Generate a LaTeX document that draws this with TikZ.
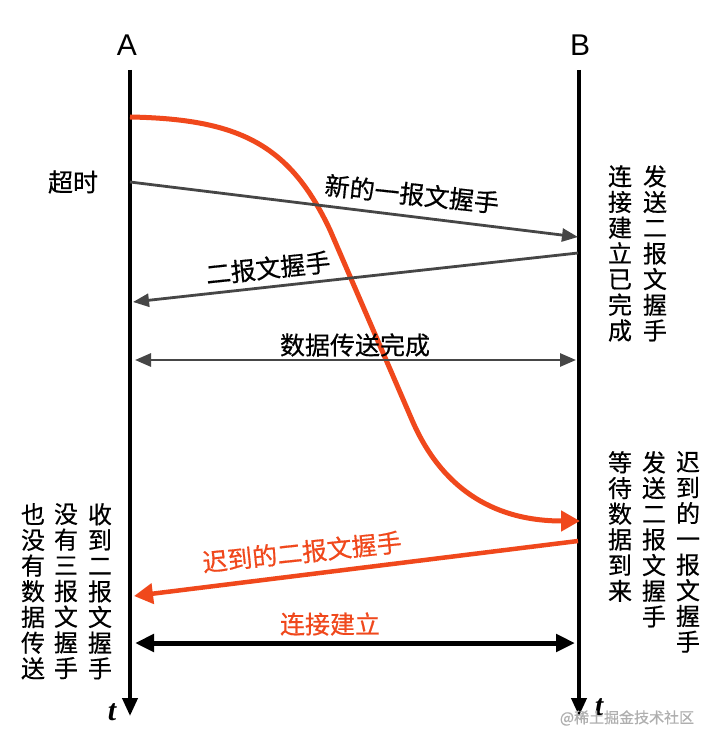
\documentclass[tikz,border=0pt]{standalone}
\usepackage{fontspec}
\setmainfont{Noto Sans CJK SC}[FakeBold=0.5]
\newfontfamily\latinsans{Liberation Sans}
\newfontfamily\tfont{Liberation Serif}
\usetikzlibrary{arrows.meta}
\definecolor{myred}{RGB}{240,72,28}
\definecolor{mygray}{RGB}{70,70,70}
\definecolor{wmgray}{RGB}{175,175,175}
\begin{document}
\begin{tikzpicture}[x=1pt,y=-1pt,
  lab/.style={font=\fontsize{25}{27}\selectfont, inner sep=0pt},
  vlab/.style={font=\fontsize{24}{25.7}\selectfont, align=center, inner sep=0pt, anchor=north},
  axisline/.style={line width=4pt, -{Triangle[length=18pt,width=15pt]}},
  grayarrow/.style={draw=mygray, line width=2.8pt, -{Triangle[length=16pt,width=13pt]}},
  graydouble/.style={draw=mygray, line width=2.8pt, {Triangle[length=16pt,width=13pt]}-{Triangle[length=16pt,width=13pt]}},
  redarrow/.style={draw=myred, line width=5pt, -{Triangle[length=19pt,width=20pt]}},
  blackdouble/.style={draw=black, line width=5pt, {Triangle[length=19pt,width=17pt]}-{Triangle[length=19pt,width=17pt]}},
]
\useasboundingbox[fill=white] (0,0) rectangle (710,746);

% axes
\node[font=\latinsans\fontsize{30}{30}\selectfont, inner sep=0pt] (A) at (127,45) {A};
\node[font=\latinsans\fontsize{30}{30}\selectfont, inner sep=0pt] (B) at (580,45) {B};
\coordinate (Atop) at (130,70);
\coordinate (Abot) at (130,716);
\coordinate (Btop) at (579,70);
\coordinate (Bbot) at (579,716);
\draw[axisline] (Atop) -- (Abot);
\draw[axisline] (Btop) -- (Bbot);
\node[font=\tfont\itshape\bfseries\fontsize{30}{30}\selectfont, inner sep=0pt] (tA) at (112,712) {t};
\node[font=\tfont\itshape\bfseries\fontsize{30}{30}\selectfont, inner sep=0pt] (tB) at (599,707) {t};

% red curve (delayed first handshake)
\coordinate (r0) at (130,117);
\coordinate (r1) at (330,230);
\coordinate (r2) at (412,420);
\coordinate (r3) at (580,521);
\draw[redarrow] (r0) .. controls (240,119) and (290,145) .. (r1) -- (r2) .. controls (440,485) and (490,521) .. (r3);

% timeout
\node[lab] (timeout) at (73,182) {超时};

% new first handshake
\coordinate (n0) at (130,182);
\coordinate (n1) at (578,237);
\draw[grayarrow] (n0) -- (n1);
\node[lab, rotate=-6] (nlab) at (412,194) {新的一报文握手};

% second handshake
\coordinate (s0) at (578,253);
\coordinate (s1) at (133,302);
\draw[grayarrow] (s0) -- (s1);
\node[lab, rotate=6] (slab) at (268,268) {二报文握手};

% data transfer done
\coordinate (d0) at (135,360);
\coordinate (d1) at (576,360);
\draw[graydouble] (d0) -- (d1);
\node[lab] (dlab) at (355,345) {数据传送完成};

% delayed second handshake
\coordinate (l0) at (578,541);
\coordinate (l1) at (134,596);
\draw[redarrow, line width=4.5pt] (l0) -- (l1);
\node[lab, text=myred, rotate=6] (llab) at (302,552) {迟到的二报文握手};

% connection established
\coordinate (c0) at (135,643);
\coordinate (c1) at (575,643);
\draw[blackdouble] (c0) -- (c1);
\node[lab, text=myred] (clab) at (330,624) {连接建立};

% vertical texts left
\node[vlab] (v1) at (100,503) {收\\到\\二\\报\\文\\握\\手};
\node[vlab] (v2) at (66,503) {没\\有\\三\\报\\文\\握\\手};
\node[vlab] (v3) at (33,503) {也\\没\\有\\数\\据\\传\\送};

% vertical texts right upper
\node[vlab] (v4) at (620,165) {连\\接\\建\\立\\已\\完\\成};
\node[vlab] (v5) at (655,165) {发\\送\\二\\报\\文\\握\\手};

% vertical texts right lower
\node[vlab] (v6) at (620,451) {等\\待\\数\\据\\到\\来};
\node[vlab] (v7) at (654,451) {发\\送\\二\\报\\文\\握\\手};
\node[vlab] (v8) at (688,451) {迟\\到\\的\\一\\报\\文\\握\\手};

% watermark
\node[font=\fontsize{15}{15}\selectfont, text=wmgray, inner sep=0pt] (wm) at (627,718) {@稀土掘金技术社区};
\end{tikzpicture}
\end{document}
